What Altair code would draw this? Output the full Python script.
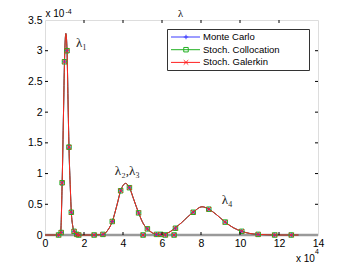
import altair as alt
import pandas as pd

# ---- data (x in units of 1e4, y in units of 1e-4) ----
series_names = ["Monte Carlo", "Stoch. Collocation", "Stoch. Galerkin"]
series_colors = ["#3a3aff", "#22b022", "#ff2020"]

# smooth pdf curve
curve_x = [0.0, 0.62, 0.70, 0.80, 0.88, 0.95, 1.00, 1.07, 1.13, 1.18, 1.23, 1.30, 1.35, 1.42, 1.49, 1.56, 1.63, 1.75,
           2.5, 2.97, 3.20, 3.45, 3.70, 3.88, 4.13, 4.33, 4.55, 4.80, 5.05, 5.25, 5.50, 5.72, 5.94, 6.17,
           6.40, 6.69, 7.00, 7.30, 7.60, 8.05, 8.40, 8.80, 9.24, 9.65, 10.09, 10.50, 10.93, 11.40, 11.78, 12.63, 13.0]
curve_y = [0.0, 0.0, 0.0, 0.03, 0.85, 2.0, 2.82, 3.28, 3.0, 2.2, 1.43, 0.75, 0.37, 0.15, 0.06, 0.025, 0.01, 0.0,
           0.0, 0.01, 0.07, 0.22, 0.50, 0.72, 0.84, 0.77, 0.58, 0.36, 0.18, 0.10, 0.035, 0.01, 0.005, 0.02,
           0.05, 0.12, 0.20, 0.29, 0.37, 0.46, 0.42, 0.33, 0.21, 0.12, 0.06, 0.025, 0.01, 0.003, 0.0, 0.0, 0.0]

# marker positions (same nodes for all three methods)
mark_x = [0.70, 0.83, 0.88, 1.00, 1.13, 1.23, 1.35, 1.49, 1.63, 1.73, 2.52, 2.97, 3.45, 3.88, 4.33, 4.80,
          5.03, 5.25, 5.72, 5.94, 6.17, 6.62, 6.69, 7.60, 8.40, 9.24, 10.09, 10.93, 11.78, 12.63]
mark_y = [0.0, 0.04, 0.85, 2.82, 3.00, 1.43, 0.37, 0.06, 0.01, 0.0, 0.0, 0.01, 0.22, 0.72, 0.77, 0.36,
          0.0, 0.10, 0.01, 0.01, 0.0, 0.0, 0.11, 0.37, 0.42, 0.21, 0.06, 0.01, 0.0, 0.0]

x_ticks = [0, 2, 4, 6, 8, 10, 12, 14]
y_ticks = [0, 0.5, 1, 1.5, 2, 2.5, 3, 3.5]

ann_text = ["λ₁", "λ₂,λ₃", "λ₄"]
ann_x = [1.87, 4.22, 9.34]
ann_y = [3.13, 1.04, 0.565]

W, H = 273, 215

xs = alt.Scale(domain=[0, 14], nice=False, zero=False)
ys = alt.Scale(domain=[0, 3.5], nice=False, zero=False)

line_df = pd.DataFrame([
    {"series": s, "x": x, "y": y}
    for s in series_names for x, y in zip(curve_x, curve_y)
])
pt_df = pd.DataFrame([
    {"series": s, "x": x, "y": y}
    for s in series_names for x, y in zip(mark_x, mark_y)
])

shape_paths = ["M-1,0L1,0M0,-1L0,1", "square", "M-1,-1L1,1M-1,1L1,-1"]
color_scale = alt.Scale(domain=series_names, range=series_colors)
shape_scale = alt.Scale(domain=series_names, range=shape_paths)

axis_common = dict(domain=False, ticks=False, grid=False, labelFont="Liberation Sans", labelFontSize=10.5,
                   labelColor="black", labelPadding=3, title=None, labelOverlap=False, labelFlush=False,
                   labelBound=False)
X = alt.X("x:Q", scale=xs, axis=alt.Axis(values=x_ticks, **axis_common))
Y = alt.Y("y:Q", scale=ys, axis=alt.Axis(values=y_ticks, format="~g", **axis_common))

zero_df = pd.DataFrame({"x": [0], "x2": [14], "y": [0]})
zero_line = alt.Chart(zero_df).mark_rule(color="#9a9a9a", strokeWidth=2.5).encode(x=X, x2="x2:Q", y=Y)

lines = alt.Chart(line_df).mark_line(interpolate="monotone", strokeWidth=1, strokeJoin="round").encode(
    x=X, y=Y,
    color=alt.Color("series:N", scale=color_scale, legend=None),
    detail="series:N",
)

points = alt.Chart(pt_df).mark_point(filled=False, strokeWidth=1, size=20, opacity=1).encode(
    x=X, y=Y,
    color=alt.Color("series:N", scale=color_scale, legend=None),
    shape=alt.Shape("series:N", scale=shape_scale, legend=None),
)

# inward tick marks on all four sides
xt_df = pd.DataFrame({"x": x_ticks[1:-1]})
yt_df = pd.DataFrame({"y": y_ticks[1:-1]})
tick_style = dict(color="black", strokeWidth=1)
ticks = [
    alt.Chart(xt_df).mark_rule(**tick_style).encode(x=X, y=alt.value(H - 3), y2=alt.value(H)),
    alt.Chart(xt_df).mark_rule(**tick_style).encode(x=X, y=alt.value(0), y2=alt.value(3)),
    alt.Chart(yt_df).mark_rule(**tick_style).encode(y=Y, x=alt.value(0), x2=alt.value(3)),
    alt.Chart(yt_df).mark_rule(**tick_style).encode(y=Y, x=alt.value(W - 3), x2=alt.value(W)),
]

ann_df = pd.DataFrame({"t": ann_text, "x": ann_x, "y": ann_y})
annots = alt.Chart(ann_df).mark_text(font="Liberation Serif", fontSize=13, color="#222", align="center",
                                     baseline="middle").encode(x=X, y=Y, text="t:N")

one = pd.DataFrame({"a": [0]})
exp_texts = [
    alt.Chart(one).mark_text(text="λ", font="Liberation Serif", fontSize=10.5, align="center",
                             baseline="alphabetic", color="black").encode(x=alt.value(W / 2 - 1), y=alt.value(-3.5)),
    alt.Chart(one).mark_text(text="x 10", font="Liberation Sans", fontSize=10, align="left", baseline="middle",
                             color="black").encode(x=alt.value(0.5), y=alt.value(-5.7)),
    alt.Chart(one).mark_text(text="-4", font="Liberation Sans", fontSize=7, align="left", baseline="middle",
                             color="black").encode(x=alt.value(20.5), y=alt.value(-8.5)),
    alt.Chart(one).mark_text(text="x 10", font="Liberation Sans", fontSize=10, align="left", baseline="middle",
                             color="black").encode(x=alt.value(251), y=alt.value(238.5)),
    alt.Chart(one).mark_text(text="4", font="Liberation Sans", fontSize=7, align="left", baseline="middle",
                             color="black").encode(x=alt.value(270), y=alt.value(232)),
]

# legend box
legend_layers = [
    alt.Chart(one).mark_rect(fill="white", stroke="#333", strokeWidth=1).encode(
        x=alt.value(122.5), x2=alt.value(264.5), y=alt.value(9.5), y2=alt.value(50.5))
]
for i, (name, col, shp) in enumerate(zip(series_names, series_colors, shape_paths)):
    yy = 17 + i * 12.7
    legend_layers.append(alt.Chart(one).mark_rule(color=col, strokeWidth=1).encode(
        x=alt.value(126), x2=alt.value(155), y=alt.value(yy)))
    legend_layers.append(alt.Chart(one).mark_point(shape=shp, filled=False, color=col, size=20, strokeWidth=1,
                                                   opacity=1).encode(x=alt.value(141), y=alt.value(yy)))
    legend_layers.append(alt.Chart(one).mark_text(text=name, font="Liberation Sans", fontSize=9.5, align="left",
                                                  baseline="middle", color="black").encode(
        x=alt.value(158), y=alt.value(yy)))

chart = alt.layer(zero_line, lines, points, *ticks, annots, *exp_texts, *legend_layers).properties(
    width=W, height=H,
    autosize=alt.AutoSizeParams(type="none"),
    padding={"left": 37, "top": 12, "right": 26, "bottom": 30},
).configure_view(stroke="black", strokeWidth=1).configure_axis(
    labelOverlap=False, labelFlush=False, labelBound=False
).configure(background="white")

chart.save("out.html", embed_options={"renderer": "svg", "actions": False})
